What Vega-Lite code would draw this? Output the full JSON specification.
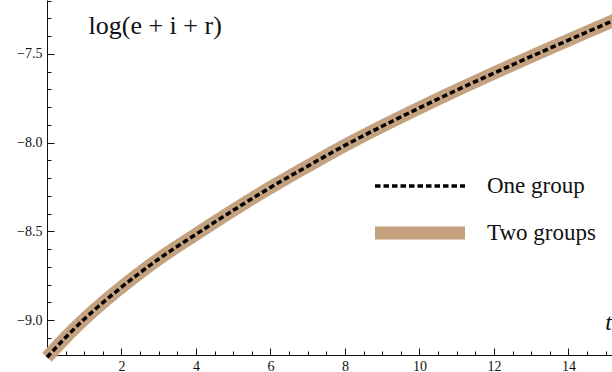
{
  "$schema": "https://vega.github.io/schema/vega-lite/v6.json",
  "width": 565,
  "height": 355,
  "autosize": {"type": "none"},
  "padding": {"left": 47, "top": 0, "right": 0, "bottom": 17},
  "background": "white",
  "config": {
    "view": {"stroke": null},
    "font": "Liberation Serif",
    "axis": {"labelFontSize": 14, "labelFont": "Liberation Serif", "labelColor": "#111"}
  },
  "data": {
    "values": [
      {"t": 0, "v": -9.21, "series": "Two groups"},
      {"t": 0.5, "v": -9.098, "series": "Two groups"},
      {"t": 1, "v": -8.995, "series": "Two groups"},
      {"t": 1.5, "v": -8.902, "series": "Two groups"},
      {"t": 2, "v": -8.815, "series": "Two groups"},
      {"t": 3, "v": -8.656, "series": "Two groups"},
      {"t": 4, "v": -8.517, "series": "Two groups"},
      {"t": 5, "v": -8.382, "series": "Two groups"},
      {"t": 6, "v": -8.253, "series": "Two groups"},
      {"t": 7, "v": -8.133, "series": "Two groups"},
      {"t": 8, "v": -8.016, "series": "Two groups"},
      {"t": 9, "v": -7.908, "series": "Two groups"},
      {"t": 10, "v": -7.805, "series": "Two groups"},
      {"t": 11, "v": -7.705, "series": "Two groups"},
      {"t": 12, "v": -7.609, "series": "Two groups"},
      {"t": 13, "v": -7.515, "series": "Two groups"},
      {"t": 14, "v": -7.423, "series": "Two groups"},
      {"t": 15, "v": -7.332, "series": "Two groups"},
      {"t": 15.3, "v": -7.305, "series": "Two groups"},
      {"t": 0, "v": -9.21, "series": "One group"},
      {"t": 0.5, "v": -9.098, "series": "One group"},
      {"t": 1, "v": -8.995, "series": "One group"},
      {"t": 1.5, "v": -8.902, "series": "One group"},
      {"t": 2, "v": -8.815, "series": "One group"},
      {"t": 3, "v": -8.656, "series": "One group"},
      {"t": 4, "v": -8.517, "series": "One group"},
      {"t": 5, "v": -8.382, "series": "One group"},
      {"t": 6, "v": -8.253, "series": "One group"},
      {"t": 7, "v": -8.133, "series": "One group"},
      {"t": 8, "v": -8.016, "series": "One group"},
      {"t": 9, "v": -7.908, "series": "One group"},
      {"t": 10, "v": -7.805, "series": "One group"},
      {"t": 11, "v": -7.705, "series": "One group"},
      {"t": 12, "v": -7.609, "series": "One group"},
      {"t": 13, "v": -7.515, "series": "One group"},
      {"t": 14, "v": -7.423, "series": "One group"},
      {"t": 15, "v": -7.332, "series": "One group"},
      {"t": 15.3, "v": -7.305, "series": "One group"}
    ]
  },
  "resolve": {"axis": {"x": "independent", "y": "independent"}},
  "layer": [
    {
      "transform": [{"filter": "datum.series === 'Two groups'"}],
      "mark": {"type": "line", "strokeCap": "butt", "interpolate": "monotone"},
      "encoding": {
        "x": {
          "field": "t", "type": "quantitative",
          "scale": {"domain": [0, 15.17], "nice": false, "zero": false},
          "axis": {
            "orient": "bottom",
            "values": [2, 4, 6, 8, 10, 12, 14],
            "format": "d",
            "grid": false,
            "tickSize": -7,
            "tickColor": "#111",
            "domainColor": "#111",
            "domainWidth": 1,
            "labelPadding": 11,
            "labelFontSize": 14,
            "labelFlush": false,
            "labelOverlap": false,
            "title": "t",
            "titleFont": "Liberation Serif",
            "titleFontStyle": "italic",
            "titleFontWeight": "normal",
            "titleFontSize": 24,
            "titleColor": "#111",
            "titleAngle": 0,
            "titleX": 561,
            "titleY": -26,
            "titleAlign": "center",
            "titleBaseline": "alphabetic"
          }
        },
        "y": {
          "field": "v", "type": "quantitative",
          "scale": {"domain": [-9.197, -7.197], "nice": false, "zero": false},
          "axis": {
            "orient": "left",
            "values": [-9.0, -8.5, -8.0, -7.5],
            "format": ".1f",
            "grid": false,
            "tickSize": -7,
            "tickColor": "#111",
            "domainColor": "#111",
            "domainWidth": 1,
            "labelPadding": 12,
            "labelFontSize": 14,
            "labelOverlap": false,
            "labelFlush": false,
            "title": "log(e + i + r)",
            "titleFont": "Liberation Serif",
            "titleFontWeight": "normal",
            "titleFontSize": 26,
            "titleColor": "#111",
            "titleAngle": 0,
            "titleX": 41,
            "titleY": 33,
            "titleAlign": "left",
            "titleBaseline": "alphabetic"
          }
        },
        "color": {
          "field": "series", "type": "nominal",
          "scale": {"domain": ["One group", "Two groups"], "range": ["#000000", "#c4a280"]},
          "legend": {
            "title": null,
            "orient": "none",
            "legendX": 355,
            "legendY": 173,
            "padding": 0,
            "symbolType": "M-4,0H4",
            "symbolSize": 506,
            "labelFont": "Liberation Serif",
            "labelFontSize": 23,
            "labelColor": "#111",
            "labelOffset": 49,
            "rowPadding": 9
          }
        },
        "strokeDash": {
          "field": "series", "type": "nominal",
          "scale": {"domain": ["One group", "Two groups"], "range": [[5.5, 3], [1, 0]]}
        },
        "strokeWidth": {
          "field": "series", "type": "nominal",
          "scale": {"domain": ["One group", "Two groups"], "range": [3.5, 13]}
        }
      }
    },
    {
      "transform": [{"filter": "datum.series === 'One group'"}],
      "mark": {"type": "line", "strokeCap": "butt", "interpolate": "monotone"},
      "encoding": {
        "x": {
          "field": "t", "type": "quantitative",
          "axis": {
            "orient": "bottom",
            "values": [0.5, 1, 1.5, 2.5, 3, 3.5, 4.5, 5, 5.5, 6.5, 7, 7.5, 8.5, 9, 9.5, 10.5, 11, 11.5, 12.5, 13, 13.5, 14.5, 15],
            "labels": false,
            "domain": false,
            "grid": false,
            "tickSize": -4,
            "tickColor": "#111",
            "title": null
          }
        },
        "y": {
          "field": "v", "type": "quantitative",
          "axis": {
            "orient": "left",
            "values": [-9.1, -8.9, -8.8, -8.7, -8.6, -8.4, -8.3, -8.2, -8.1, -7.9, -7.8, -7.7, -7.6, -7.4, -7.3, -7.2],
            "labels": false,
            "domain": false,
            "grid": false,
            "tickSize": -4,
            "tickColor": "#111",
            "title": null
          }
        },
        "color": {"field": "series", "type": "nominal"},
        "strokeDash": {"field": "series", "type": "nominal"},
        "strokeWidth": {"field": "series", "type": "nominal"}
      }
    }
  ]
}
